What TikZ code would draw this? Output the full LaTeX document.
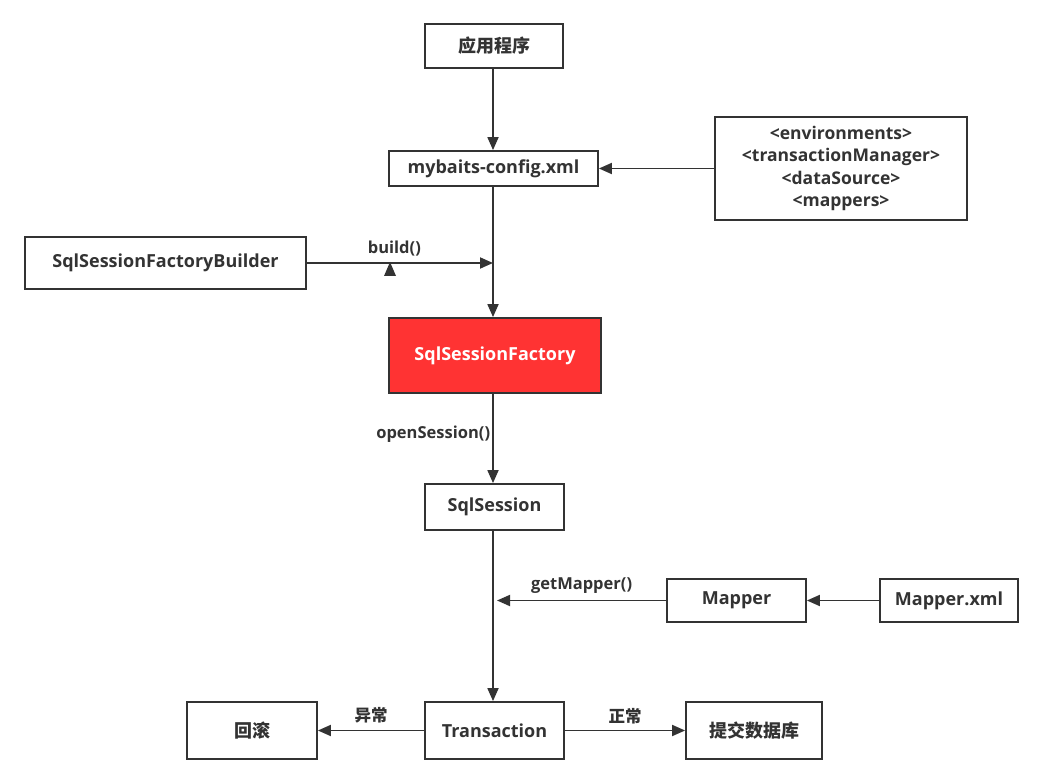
\documentclass[tikz,border=0pt]{standalone}
\usepackage{fontspec}
\setmainfont{Open Sans}
\newfontfamily\cjk{Noto Sans CJK SC}
\usetikzlibrary{arrows.meta,positioning}

\definecolor{linegray}{RGB}{51,51,51}
\definecolor{factoryred}{RGB}{255,51,51}

\begin{document}
\begin{tikzpicture}[x=1pt,y=-1pt,>={Triangle[length=13pt,width=11pt]},
  box/.style={draw=linegray,line width=1.8pt,fill=white,inner sep=0pt,
    text=linegray,font=\fontsize{18}{21}\selectfont\bfseries},
  lbl/.style={text=linegray,font=\fontsize{16.5}{19}\selectfont\bfseries,inner sep=1pt},
  conn/.style={draw=linegray,line width=1.8pt,->}]
  \useasboundingbox[fill=white] (0,0) rectangle (1044,783);
  % boxes
  \node[box,minimum width=138pt,minimum height=44pt] (app) at (494,46) {\cjk 应用程序};
  \node[box,minimum width=209pt,minimum height=35pt] (config) at (493.5,168.5) {mybaits-config.xml};
  \node[box,minimum width=252pt,minimum height=103pt,align=center,
    font=\fontsize{17.5}{22.5}\selectfont\bfseries] (env) at (841,168.5)
    {<environments>\\<transactionManager>\\<dataSource>\\<mappers>};
  \node[box,minimum width=281pt,minimum height=52pt] (builder) at (165.5,263) {SqlSessionFactoryBuilder};
  \node[box,fill=factoryred,text=white,minimum width=212pt,minimum height=75pt] (factory) at (495,355.5) {SqlSessionFactory};
  \node[box,minimum width=139pt,minimum height=46pt] (session) at (494.5,507) {SqlSession};
  \node[box,minimum width=139pt,minimum height=43pt] (mapper) at (736.5,600.5) {Mapper};
  \node[box,minimum width=138pt,minimum height=43pt] (mapperxml) at (949,600.5) {Mapper.xml};
  \node[box,minimum width=139pt,minimum height=57pt] (trans) at (494.5,730.5) {Transaction};
  \node[box,minimum width=130pt,minimum height=57pt] (rollback) at (252,730.5) {\cjk 回滚};
  \node[box,minimum width=136pt,minimum height=57pt] (commit) at (754,730.5) {\cjk 提交数据库};
  % free ends
  \coordinate (buildend) at (493,263);
  \coordinate (mapend) at (497,600.5);
  % connectors
  \draw[conn] (app.south -| 493,0) -- (config.north -| 493,0);
  \draw[conn] (env.west) -- (config.east);
  \draw[conn] (config.south -| 493,0) -- (factory.north -| 493,0);
  \draw[conn] (builder.east) -- (buildend)
    node[lbl,pos=0.47,above=5pt] (buildlbl) {build()};
  \fill[linegray] (384,276) -- (396,276) -- (390,262) -- cycle;
  \draw[conn] (factory.south -| 493,0) -- (session.north -| 493,0)
    node[lbl,pos=0.45,left=1pt] (openlbl) {openSession()};
  \draw[conn] (session.south -| 493,0) -- (trans.north -| 493,0);
  \draw[conn] (mapper.west) -- (mapend)
    node[lbl,midway,above=5pt] (getlbl) {getMapper()};
  \draw[conn] (mapperxml.west) -- (mapper.east);
  \draw[conn] (trans.west) -- (rollback.east)
    node[lbl,midway,above=5pt] (errlbl) {\cjk 异常};
  \draw[conn] (trans.east) -- (commit.west)
    node[lbl,midway,above=5pt] (oklbl) {\cjk 正常};
\end{tikzpicture}
\end{document}
